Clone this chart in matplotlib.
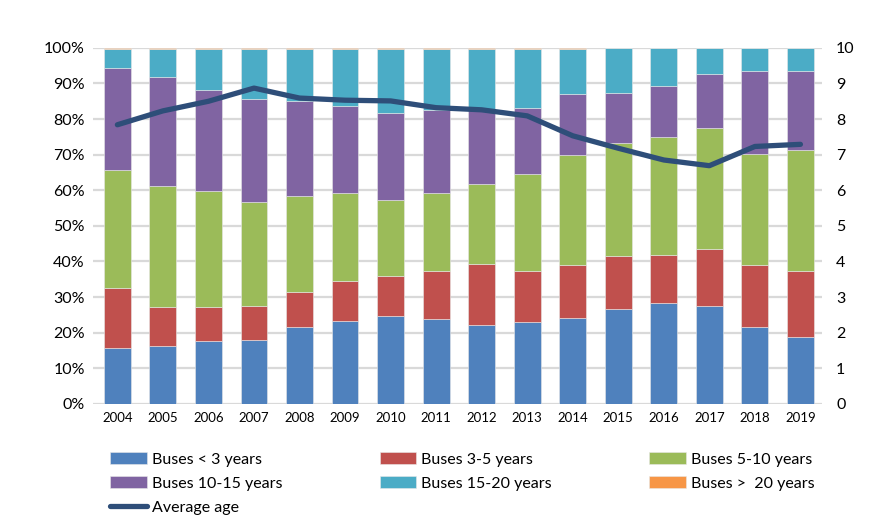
import matplotlib.pyplot as plt
import numpy as np

plt.rcParams['font.family'] = ['Lato', 'DejaVu Sans']

years = ['2004', '2005', '2006', '2007', '2008', '2009', '2010', '2011',
         '2012', '2013', '2014', '2015', '2016', '2017', '2018', '2019']

# cumulative tops (%)
top_lt3 = [15.7, 16.3, 17.6, 17.8, 21.7, 23.3, 24.8, 23.8, 22.1, 23.0, 24.1, 26.7, 28.3, 27.5, 21.7, 18.9]
top_3_5 = [32.4, 27.3, 27.2, 27.5, 31.5, 34.4, 35.8, 37.4, 39.2, 37.4, 39.0, 41.4, 41.7, 43.4, 38.9, 37.2]
top_5_10 = [65.8, 61.3, 59.7, 56.6, 58.3, 59.2, 57.3, 59.3, 61.8, 64.6, 70.0, 73.2, 75.1, 77.5, 70.2, 71.3]
top_10_15 = [94.3, 91.7, 88.1, 85.6, 85.1, 83.8, 81.7, 82.6, 82.8, 83.0, 87.0, 87.2, 89.4, 92.6, 93.4, 93.4]
over20 = [0.2, 0.2, 0.2, 0.2, 0.2, 0.2, 0.2, 0.2, 0.2, 0.2, 0.2, 0.1, 0.1, 0.1, 0.1, 0.1]
avg_age = [7.84, 8.23, 8.50, 8.87, 8.59, 8.53, 8.51, 8.32, 8.26, 8.09, 7.53, 7.18, 6.85, 6.69, 7.23, 7.29]

lt3 = np.array(top_lt3)
y3_5 = np.array(top_3_5) - np.array(top_lt3)
y5_10 = np.array(top_5_10) - np.array(top_3_5)
y10_15 = np.array(top_10_15) - np.array(top_5_10)
y_over20 = np.array(over20)
y15_20 = 100 - np.array(top_10_15) - y_over20

labels = ['Buses < 3 years', 'Buses 3-5 years', 'Buses 5-10 years',
          'Buses 10-15 years', 'Buses 15-20 years', 'Buses >  20 years']
colors = ['#4f81bd', '#c0504d', '#9bbb59', '#8064a2', '#4bacc6', '#f79646']
series = [lt3, y3_5, y5_10, y10_15, y15_20, y_over20]

fig = plt.figure(figsize=(8.88, 5.15), dpi=100)
ax = fig.add_axes([0.105, 0.216, 0.821, 0.691])
x = np.arange(len(years))

bottom = np.zeros(len(years))
handles = []
for vals, lab, col in zip(series, labels, colors):
    b = ax.bar(x, vals, 0.59, bottom=bottom, color=col, label=lab,
               edgecolor='#e8e8e8', linewidth=0.4, zorder=3)
    handles.append(b)
    bottom = bottom + vals

ax.set_ylim(0, 100)
ax.set_xlim(-0.53, 15.48)
ax.set_yticks(range(0, 101, 10))
ax.set_yticklabels([f'{v}%' for v in range(0, 101, 10)], fontsize=11.5)
ax.set_xticks(x)
ax.set_xticklabels(years, fontsize=9.5)
ax.tick_params(length=0, pad=6)
ax.grid(axis='y', color='#d9d9d9', linewidth=1.6, zorder=0)
for s in ax.spines.values():
    s.set_visible(False)

ax2 = ax.twinx()
line, = ax2.plot(x, avg_age, color='#2e4e79', linewidth=3.8, label='Average age',
                 solid_capstyle='round')
ax2.set_ylim(0, 10)
ax2.set_yticks(range(0, 11))
ax2.tick_params(length=0, labelsize=11.5, pad=10)
for s in ax2.spines.values():
    s.set_visible(False)

# legend filled column by column, so reorder to read row by row
all_h = handles + [line]
all_l = labels + ['Average age']
order = [0, 3, 6, 1, 4, 2, 5]
fig.legend([all_h[i] for i in order], [all_l[i] for i in order], ncol=3,
           loc='upper left', bbox_to_anchor=(0.108, 0.15), frameon=False,
           fontsize=11.5, handlelength=2.3, handleheight=0.75,
           columnspacing=6.1, labelspacing=0.62, handletextpad=0.3)

fig.savefig('out.png', dpi=100)
